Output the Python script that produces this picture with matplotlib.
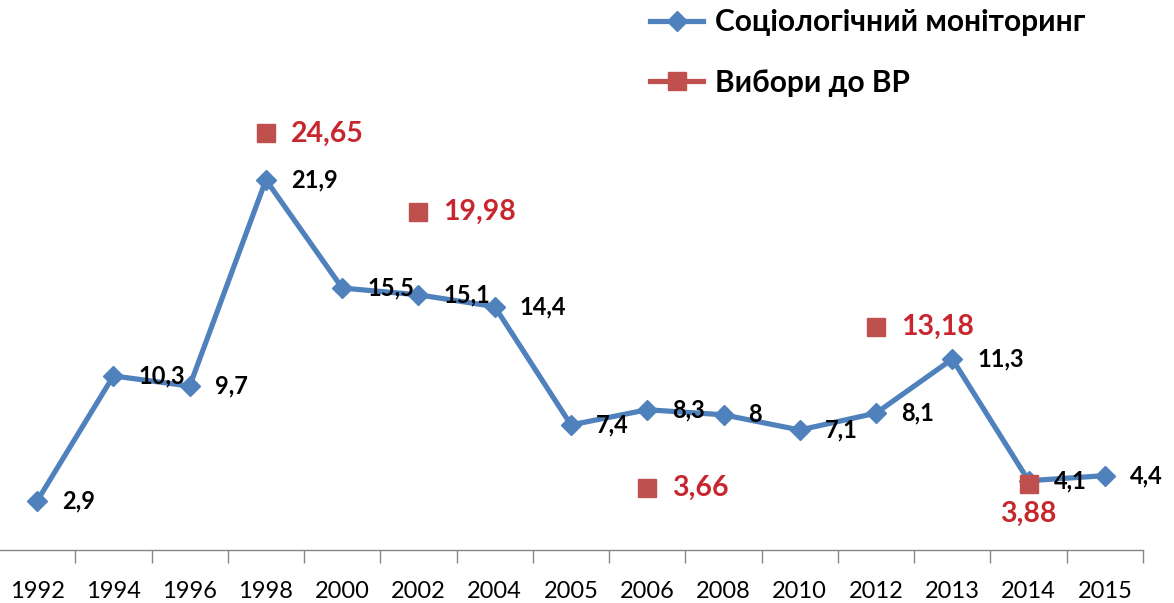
import matplotlib
matplotlib.use("Agg")
import matplotlib.pyplot as plt
from matplotlib.lines import Line2D
import numpy as np

years = ["1992", "1994", "1996", "1998", "2000", "2002", "2004", "2005",
         "2006", "2008", "2010", "2012", "2013", "2014", "2015"]
monitoring = [2.9, 10.3, 9.7, 21.9, 15.5, 15.1, 14.4, 7.4, 8.3, 8.0, 7.1, 8.1, 11.3, 4.1, 4.4]
monitoring_labels = ["2,9", "10,3", "9,7", "21,9", "15,5", "15,1", "14,4", "7,4",
                     "8,3", "8", "7,1", "8,1", "11,3", "4,1", "4,4"]
election_years = ["1998", "2002", "2006", "2012", "2014"]
elections = [24.65, 19.98, 3.66, 13.18, 3.88]
election_labels = ["24,65", "19,98", "3,66", "13,18", "3,88"]
series_names = ["Соціологічний моніторинг", "Вибори до ВР"]

BLUE = "#4F81BD"
RED = "#C0504D"
RED_TXT = "#C8262E"
FONT = "Lato"

plt.rcParams['font.family'] = [FONT, 'DejaVu Sans']

fig = plt.figure(figsize=(11.74, 6.03), dpi=100)
W, H = 1174, 603
ax = fig.add_axes([-1 / W, (H - 550) / H, 1144 / W, 507 / H])

x = np.arange(len(years))
ax.plot(x, monitoring, color=BLUE, lw=3.75, marker='D', markersize=10,
        markerfacecolor=BLUE, markeredgecolor=BLUE, zorder=3)
ex = [years.index(y) for y in election_years]
ax.plot(ex, elections, ls='none', marker='s', markersize=13.5, color=RED,
        zorder=4)

for xi, v, lab in zip(x, monitoring, monitoring_labels):
    ax.annotate(lab, (xi, v), xytext=(18, 0), textcoords='offset points',
                ha='left', va='center', fontsize=17, fontweight='bold',
                color='black', zorder=5, annotation_clip=False)

for xi, v, lab in zip(ex, elections, election_labels):
    if lab == "3,88":
        ax.annotate(lab, (xi, v), xytext=(0, -21), textcoords='offset points',
                    ha='center', va='center', fontsize=20.5, fontweight='bold',
                    color=RED_TXT, zorder=5, annotation_clip=False)
    else:
        ax.annotate(lab, (xi, v), xytext=(18, 0), textcoords='offset points',
                    ha='left', va='center', fontsize=20.5, fontweight='bold',
                    color=RED_TXT, zorder=5, annotation_clip=False)

ax.set_xlim(-0.5, len(years) - 0.5)
ax.set_ylim(0, 30)
ax.set_xticks(x)
ax.set_xticklabels(years, fontsize=17)
ax.set_xticks(np.arange(0.5, len(years) - 0.5 + 0.01, 1.0), minor=True)
ax.tick_params(axis='x', which='major', length=0, pad=22)
ax.tick_params(axis='x', which='minor', length=9, color='#868686', width=1)
ax.set_yticks([])
for s in ['left', 'right', 'top']:
    ax.spines[s].set_visible(False)
ax.spines['bottom'].set_color('#868686')
ax.spines['bottom'].set_linewidth(1)

handles = [
    Line2D([], [], color=BLUE, lw=3.75, marker='D', markersize=10),
    Line2D([], [], color=RED, lw=3.75, marker='s', markersize=13.5),
]
fig.legend(handles, series_names, loc='upper left',
           bbox_to_anchor=(650 / W, 1 - 8 / H),
           frameon=False, prop={'weight': 'bold', 'size': 21.5},
           handlelength=1.78, handletextpad=0.4, labelspacing=1.1,
           borderpad=0, borderaxespad=0)

fig.savefig("out.png", dpi=100)
